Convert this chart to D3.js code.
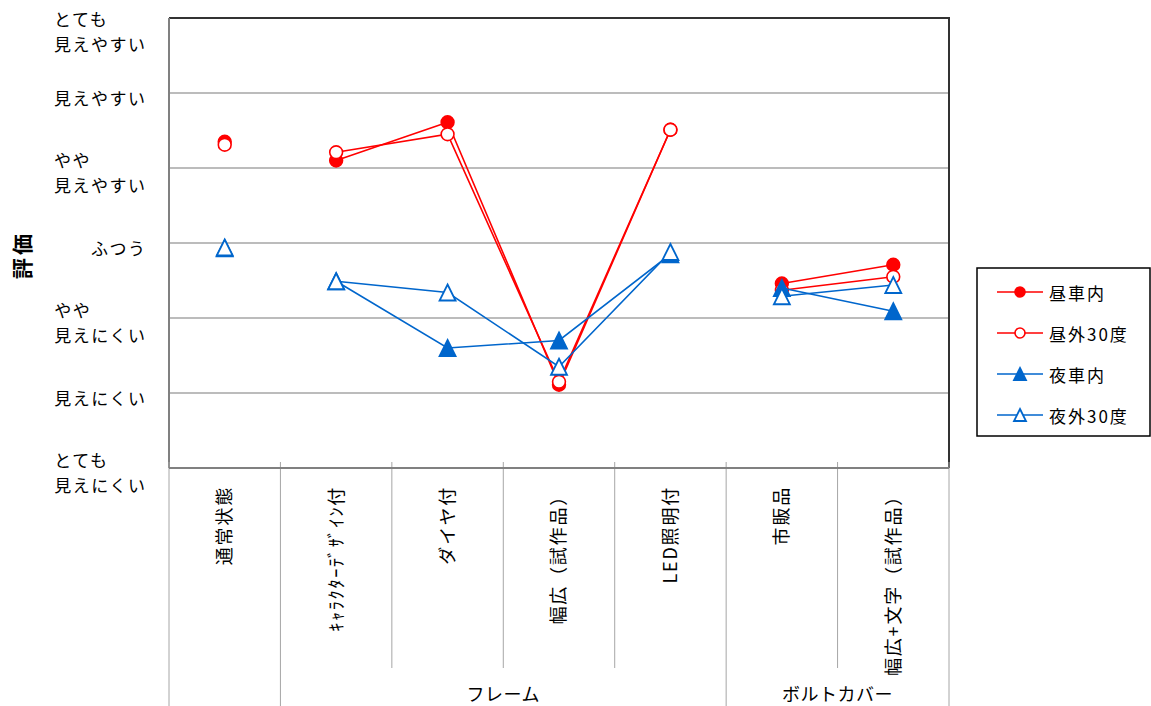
<!DOCTYPE html>
<html><head><meta charset="utf-8">
<script src="https://cdn.jsdelivr.net/npm/d3@7"></script>
<style>
html,body{margin:0;padding:0;background:#fff;}
text{font-family:"Noto Sans CJK JP","Noto Sans",sans-serif;fill:#000;}
</style></head>
<body>
<svg id="chart" width="1151" height="706"></svg>
<script>
const categories = ["通常状態","ｷｬﾗｸﾀｰﾃﾞｻﾞｲﾝ付","ダイヤ付","幅広（試作品）","LED照明付","市販品","幅広+文字（試作品）"];
const groups = ["","フレーム","フレーム","フレーム","フレーム","ボルトカバー","ボルトカバー"];
const seriesNames = ["昼車内","昼外30度","夜車内","夜外30度"];
const dayIn    = [5.35, 5.10, 5.61, 2.11, 5.51, 3.46, 3.71];
const dayOut   = [5.31, 5.21, 5.45, 2.15, 5.51, 3.37, 3.55];
const nightIn  = [3.93, 3.49, 2.60, 2.70, 3.85, 3.40, 3.09];
const nightOut = [3.94, 3.49, 3.34, 2.35, 3.88, 3.29, 3.44];
const yTickValues = [1,2,3,4,5,6,7];
const yTickLabels = [["とても","見えにくい"],["見えにくい"],["やや","見えにくい"],["ふつう"],["やや","見えやすい"],["見えやすい"],["とても","見えやすい"]];
const yTitle = "評価";

const svg = d3.select("#chart");
const L = 169, R = 949, T = 18, B = 468;
const x = d3.scaleBand().domain(categories).range([L, R]).padding(0);
const y = d3.scaleLinear().domain([1, 7]).range([B, T]);
const cx = c => x(c) + x.bandwidth() / 2;

// gridlines
svg.append("g").selectAll("line").data(yTickValues.slice(1, -1)).join("line")
  .attr("x1", L).attr("x2", R).attr("y1", d => y(d)).attr("y2", d => y(d))
  .attr("stroke", "#a6a6a6").attr("stroke-width", 1.5);

// frame
svg.append("path").attr("d", `M${L},${T}H${R}V${B}`).attr("fill", "none")
  .attr("stroke", "#333").attr("stroke-width", 2);
svg.append("line").attr("x1", L).attr("x2", L).attr("y1", T).attr("y2", B)
  .attr("stroke", "#808080").attr("stroke-width", 2);

// category separators below the axis
const bounds = d3.range(categories.length + 1);
svg.append("g").selectAll("line").data(bounds).join("line")
  .attr("x1", i => L + i * x.bandwidth()).attr("x2", i => L + i * x.bandwidth())
  .attr("y1", B - 6)
  .attr("y2", i => {
    if (i === 0 || i === categories.length) return 706;
    const a = groups[i - 1], b = groups[i];
    return (a !== b) ? 706 : 668;
  })
  .attr("stroke", "#a6a6a6").attr("stroke-width", 1);
svg.append("line").attr("x1", L).attr("x2", R).attr("y1", B).attr("y2", B)
  .attr("stroke", "#808080").attr("stroke-width", 2);

// category labels (rotated)
svg.append("g").selectAll("text").data(categories).join("text")
  .attr("transform", d => `translate(${cx(d)},${486}) rotate(-90)`)
  .attr("text-anchor", "end").attr("dy", "0.36em")
  .attr("font-size", 18).attr("letter-spacing", 1.8)
  .text(d => d);

// group labels
const groupNames = Array.from(new Set(groups.filter(g => g)));
groupNames.forEach(g => {
  const idx = groups.map((v, i) => v === g ? i : -1).filter(i => i >= 0);
  const x0 = x(categories[idx[0]]), x1 = x(categories[idx[idx.length - 1]]) + x.bandwidth();
  svg.append("text").attr("x", (x0 + x1) / 2).attr("y", 693)
    .attr("text-anchor", "middle").attr("dominant-baseline", "central")
    .attr("font-size", 18).attr("letter-spacing", 0.5).text(g);
});

// y tick labels
const yl = svg.append("g");
yTickValues.forEach((v, k) => {
  const lines = yTickLabels[k];
  let first = y(v) + 4 - (lines.length - 1) * 12.5;
  if (first < 18) first = 18;
  const g = yl.append("g");
  const ts = lines.map((s, j) => g.append("text").attr("y", first + j * 25)
    .attr("dominant-baseline", "central").attr("font-size", 17).attr("letter-spacing", 1.5).text(s));
  const w = d3.max(ts, t => t.node().getComputedTextLength());
  ts.forEach(t => t.attr("x", 146.5 - w));
});

// y title
svg.append("text").attr("transform", "translate(21,255) rotate(-90)")
  .attr("text-anchor", "middle").attr("dominant-baseline", "central")
  .attr("font-size", 21).attr("font-weight", "bold").attr("letter-spacing", 3).text(yTitle);

// series
const seriesData = [dayIn, dayOut, nightIn, nightOut];
const styles = [
  {color: "#ff0000", shape: "circle", filled: true},
  {color: "#ff0000", shape: "circle", filled: false},
  {color: "#0066cc", shape: "triangle", filled: true},
  {color: "#0066cc", shape: "triangle", filled: false}
];
const triPath = s => `M0,${-s}L${s},${s}L${-s},${s}Z`;
function marker(sel, st, size) {
  if (st.shape === "circle") {
    sel.append("circle").attr("r", size)
      .attr("fill", st.filled ? st.color : "#fff").attr("stroke", st.color).attr("stroke-width", 1.6);
  } else {
    sel.append("path").attr("d", triPath(size))
      .attr("fill", st.filled ? st.color : "#fff").attr("stroke", st.color).attr("stroke-width", 1.8);
  }
}
const line = d3.line().x(d => cx(d.c)).y(d => y(d.v));
seriesData.forEach((vals, si) => {
  const st = styles[si];
  const pts = categories.map((c, i) => ({c, v: vals[i], g: groups[i]}));
  const segs = [];
  pts.forEach(p => {
    if (!p.g) return;
    const last = segs[segs.length - 1];
    if (last && last[0].g === p.g) last.push(p); else segs.push([p]);
  });
  const sg = svg.append("g");
  segs.forEach(seg => sg.append("path").attr("d", line(seg)).attr("fill", "none")
    .attr("stroke", st.color).attr("stroke-width", 1.6));
  pts.forEach(p => {
    const m = sg.append("g").attr("transform", `translate(${cx(p.c)},${y(p.v)})`);
    marker(m, st, st.shape === "circle" ? 6.4 : 8);
  });
});

// legend
const lg = svg.append("g");
lg.append("rect").attr("x", 977).attr("y", 268).attr("width", 173).attr("height", 168)
  .attr("fill", "#fff").attr("stroke", "#000").attr("stroke-width", 1.5);
const legY = d3.scalePoint().domain(seriesNames).range([292, 415]);
seriesNames.forEach((n, i) => {
  const st = styles[i];
  const g = lg.append("g").attr("transform", `translate(0,${legY(n)})`);
  g.append("line").attr("x1", 997).attr("x2", 1043).attr("stroke", st.color).attr("stroke-width", 1.6);
  const m = g.append("g").attr("transform", "translate(1020,0)");
  marker(m, st, st.shape === "circle" ? 5 : 6);
  g.append("text").attr("x", 1049).attr("dominant-baseline", "central")
    .attr("font-size", 17).attr("letter-spacing", 2).text(n);
});
</script>
</body></html>
